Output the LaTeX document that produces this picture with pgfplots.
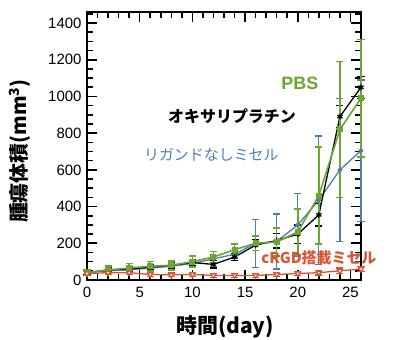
\documentclass[border=0pt]{standalone}
\usepackage{pgfplots}
\pgfplotsset{compat=1.18}
\usepackage{fontspec}
\setmainfont{Liberation Sans}
\newfontfamily\cjk{Noto Sans CJK JP}
\definecolor{pbsgreen}{RGB}{108,165,48}
\definecolor{ligblue}{RGB}{80,125,175}
\definecolor{rgdred}{RGB}{215,85,50}
\begin{document}
\begin{tikzpicture}
\begin{axis}[
  name=ax,
  scale only axis,
  width=274bp, height=268bp,
  xmin=0, xmax=26, ymin=0, ymax=1460,
  xtick={0,5,10,15,20,25},
  minor xtick={1,2,3,4,6,7,8,9,11,12,13,14,16,17,18,19,21,22,23,24,26},
  ytick={0,200,400,600,800,1000,1200,1400},
  minor ytick={50,100,150,250,300,350,450,500,550,650,700,750,850,900,950,1050,1100,1150,1250,1300,1350,1450},
  tick align=inside,
  major tick length=10bp,
  minor tick length=6bp,
  every tick/.style={black, line width=1.6bp},
  axis line style={line width=2.2bp},
  /pgf/number format/assume math mode=true,
  /pgf/number format/1000 sep={},
  tick label style={font=\fontsize{15}{15}\selectfont},
  xticklabel style={yshift=-4bp},
  yticklabel style={xshift=-2bp},
  clip=false,
]
% blue: ligand-free micelle
\addplot[ligblue, line width=1.3bp, mark=*, mark size=1.8bp,
  error bars/.cd, y dir=both, y explicit, error bar style={line width=1.3bp}, error mark options={rotate=90, mark size=3.5bp, line width=1.3bp}]
  table[x=x, y=y, y error=e] {
x y e
0 40 10
2 50 12
4 55 15
6 65 15
8 75 15
10 90 20
12 115 40
14 140 20
16 200 130
18 210 150
20 300 170
22 435 350
24 600 390
26 705 385
};
% black: oxaliplatin
\addplot[black, line width=1.3bp, mark=asterisk, mark size=3bp,
  error bars/.cd, y dir=both, y explicit, error bar style={line width=1.3bp}, error mark options={rotate=90, mark size=3.5bp, line width=1.3bp}]
  table[x=x, y=y, y error=e] {
x y e
0 40 10
2 55 12
4 60 15
6 70 15
8 80 15
10 95 15
12 85 20
14 125 20
16 190 30
18 215 40
20 250 50
22 355 60
24 890 60
26 1050 60
};
% green: PBS
\addplot[pbsgreen, line width=1.6bp, mark=square*, mark size=2.2bp,
  error bars/.cd, y dir=both, y explicit, error bar style={line width=1.6bp}, error mark options={rotate=90, mark size=3.5bp, line width=1.6bp}]
  table[x=x, y=y, y error=e] {
x y e
0 40 15
2 55 20
4 65 25
6 75 25
8 80 25
10 100 30
12 125 30
14 165 30
16 200 40
18 207 75
20 262 125
22 460 265
24 820 370
26 990 320
};
% red: cRGD micelle
\addplot[rgdred, line width=1.3bp, mark=triangle*, mark options={rotate=180, fill=white}, mark size=3bp,
  error bars/.cd, y dir=both, y explicit, error bar style={line width=1.3bp}, error mark options={rotate=90, mark size=3.5bp, line width=1.3bp}]
  table[x=x, y=y, y error=e] {
x y e
0 35 10
2 40 10
4 40 10
6 30 10
8 28 10
10 30 10
12 25 10
14 25 10
16 25 10
18 30 12
20 35 12
22 40 12
24 50 15
26 60 15
};
\node[pbsgreen, font=\bfseries\fontsize{18}{18}\selectfont] at (axis cs:20.2,1074) {PBS};
\node[black, font=\cjk\bfseries\fontsize{16}{16}\selectfont] at (axis cs:13.76,894) {オキサリプラチン};
\node[ligblue, font=\cjk\fontsize{15}{15}\selectfont] at (axis cs:11.8,681) {リガンドなしミセル};
\node[rgdred, font=\cjk\bfseries\fontsize{15}{15}\selectfont] at (axis cs:22.0,120) {cRGD搭載ミセル};
\end{axis}
\node[font=\cjk\bfseries\fontsize{21}{21}\selectfont] at ([shift={(138bp,-47bp)}]ax.south west) {時間(day)};
\node[rotate=90, font=\cjk\bfseries\fontsize{20}{20}\selectfont] at ([shift={(-67bp,129bp)}]ax.south west) {腫瘍体積(mm\textsuperscript{3})};
\pgfresetboundingbox
\useasboundingbox ([shift={(-87bp,-60bp)}]ax.south west) rectangle ([shift={(309bp,280bp)}]ax.south west);
\end{tikzpicture}
\end{document}
